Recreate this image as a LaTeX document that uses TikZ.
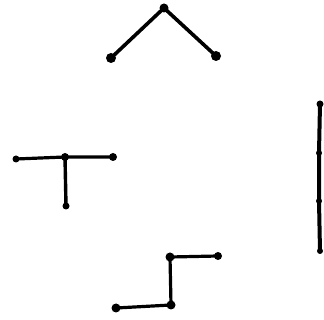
\documentclass[tikz,border=0pt]{standalone}
\begin{document}
\begin{tikzpicture}[x=1pt,y=-1pt,
  dot/.style={circle,fill=black,inner sep=0pt,minimum size=9pt},
  edge/.style={line width=3.6pt,line cap=round}]
\useasboundingbox (0,0) rectangle (324,320);
% top
\node[dot,minimum size=10pt] (a1) at (111,58) {};
\node[dot] (a2) at (164,8) {};
\node[dot,minimum size=10pt] (a3) at (216,56) {};
\draw[edge] (a1.center) -- (a2.center) -- (a3.center);
% T
\node[dot,minimum size=7pt] (t1) at (16,159) {};
\node[dot,minimum size=8pt] (t2) at (65,157) {};
\node[dot,minimum size=8pt] (t3) at (113,157) {};
\node[dot,minimum size=7pt] (t4) at (66,206) {};
\draw[edge,line width=3.2pt] (t1.center) -- (t2.center) -- (t3.center);
\draw[edge,line width=3.4pt] (t2.center) -- (t4.center);
% right vertical
\node[dot,minimum size=7pt] (r1) at (320,104) {};
\node[dot,minimum size=6pt] (r2) at (319,153) {};
\node[dot,minimum size=6pt] (r3) at (319,201) {};
\node[dot,minimum size=6pt] (r4) at (320,251) {};
\draw[edge,line width=4pt] (r1.center) -- (r2.center) -- (r3.center) -- (r4.center);
% bottom
\node[dot] (b1) at (116,308) {};
\node[dot] (b2) at (171,305) {};
\node[dot] (b3) at (170,257) {};
\node[dot,minimum size=8pt] (b4) at (218,256) {};
\draw[edge,line width=3.2pt] (b1.center) -- (b2.center) -- (b3.center) -- (b4.center);
\end{tikzpicture}
\end{document}
